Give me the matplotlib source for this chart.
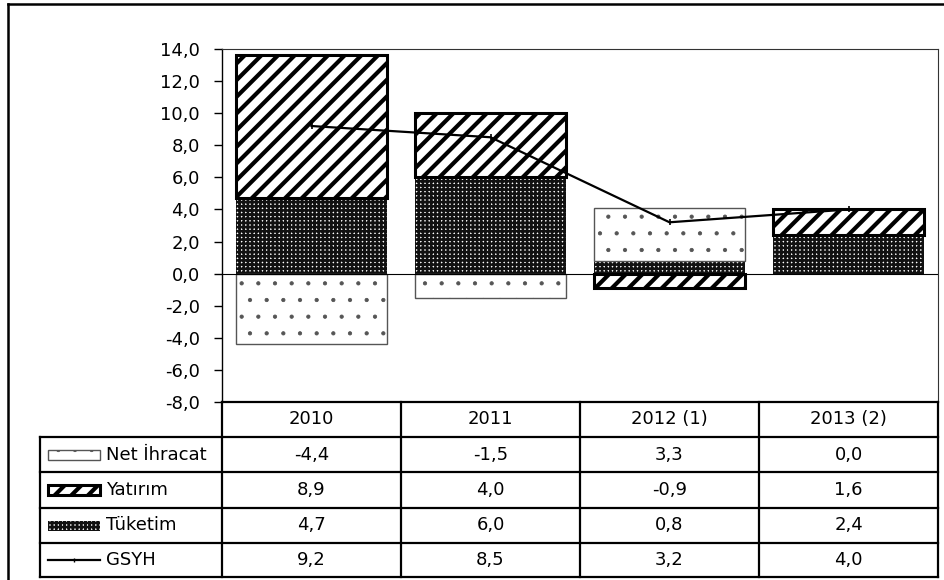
import numpy as np
import matplotlib
matplotlib.use("Agg")
import matplotlib.pyplot as plt
from matplotlib.patches import Rectangle
from matplotlib.ticker import FuncFormatter

YEARS = ["2010", "2011", "2012 (1)", "2013 (2)"]
NET = [-4.4, -1.5, 3.3, 0.0]
YAT = [8.9, 4.0, -0.9, 1.6]
TUK = [4.7, 6.0, 0.8, 2.4]
GSYH = [9.2, 8.5, 3.2, 4.0]
ROWS = ["Net İhracat", "Yatırım", "Tüketim", "GSYH"]

plt.rcParams["font.family"] = ["DejaVu Sans"]
FS = 13
W, H = 945, 580


def fmt(v):
    return f"{v:.1f}".replace(".", ",")


# bar looks: (patch kwargs, hatch linewidth)
STY = {
    "Net İhracat": (dict(facecolor="white", edgecolor="#555555", hatch=".", linewidth=1.0), 0.6),
    "Yatırım": (dict(facecolor="white", edgecolor="black", hatch="//", linewidth=2.2), 3.0),
    "Tüketim": (dict(facecolor="white", edgecolor="#111111", hatch="++++", linewidth=0), 1.9),
}


def hatch_lw(patches, lw):
    for p in patches:
        if hasattr(p, "set_hatch_linewidth"):
            p.set_hatch_linewidth(lw)


fig = plt.figure(figsize=(W / 100, H / 100), dpi=100)
AX_L, AX_R, AX_T, AX_B = 222, 938, 49, 402
ax = fig.add_axes([AX_L / W, 1 - AX_B / H, (AX_R - AX_L) / W, (AX_B - AX_T) / H])

x = np.arange(len(YEARS)) + 0.5
bw = 0.84
pos = np.zeros(len(YEARS))
neg = np.zeros(len(YEARS))
zs = {"Tüketim": 2, "Yatırım": 4, "Net İhracat": 3}
for name, vals in [("Tüketim", TUK), ("Yatırım", YAT), ("Net İhracat", NET)]:
    v = np.array(vals)
    bottom = np.where(v >= 0, pos, neg)
    kw, hl = STY[name]
    with plt.rc_context({"hatch.linewidth": hl}):
        bars = ax.bar(x, v, bw, bottom=bottom, zorder=zs[name], **kw)
    hatch_lw(bars, hl)
    pos = np.where(v >= 0, pos + v, pos)
    neg = np.where(v < 0, neg + v, neg)

ax.plot(x, GSYH, color="black", lw=1.6, marker="|", ms=4, mew=1.2, zorder=6)
ax.axhline(0, color="black", lw=0.8, zorder=5)

ax.set_xlim(0, len(YEARS))
ax.set_ylim(-8, 14)
ax.set_yticks(np.arange(-8, 15, 2))
ax.yaxis.set_major_formatter(FuncFormatter(lambda v, p: fmt(v)))
ax.tick_params(axis="y", labelsize=FS, length=6, width=1, pad=10, colors="black")
ax.set_xticks([])
for s in ["top", "right"]:
    ax.spines[s].set_linewidth(0.8)
    ax.spines[s].set_color("#333333")
ax.spines["left"].set_linewidth(1.0)
ax.spines["bottom"].set_visible(False)

# overlay in pixel coords for the frame and data table
tb = fig.add_axes([0, 0, 1, 1], zorder=10)
tb.set_xlim(0, W)
tb.set_ylim(H, 0)
tb.axis("off")

tb.plot([8, 8], [4, H + 5], color="black", lw=1.8, clip_on=False)
tb.plot([8, W + 5], [4, 4], color="black", lw=1.8, clip_on=False)

cols = [40] + [AX_L + i * (AX_R - AX_L) / len(YEARS) for i in range(len(YEARS) + 1)]
rows_y = [402, 437, 472, 508, 543, 577]
LW = 1.6
tb.plot([AX_L, AX_R], [rows_y[0]] * 2, color="black", lw=LW)
for yy in rows_y[1:]:
    tb.plot([cols[0], AX_R], [yy, yy], color="black", lw=LW)
tb.plot([cols[0]] * 2, [rows_y[1], rows_y[-1]], color="black", lw=LW)
for xx in cols[1:]:
    tb.plot([xx, xx], [rows_y[0], rows_y[-1]], color="black", lw=LW)

for j, yr in enumerate(YEARS):
    cx = (cols[j + 1] + cols[j + 2]) / 2
    tb.text(cx, (rows_y[0] + rows_y[1]) / 2, yr, ha="center", va="center", fontsize=FS)

table_vals = [NET, YAT, TUK, GSYH]
for i, (name, vals) in enumerate(zip(ROWS, table_vals)):
    cy = (rows_y[i + 1] + rows_y[i + 2]) / 2
    for j, v in enumerate(vals):
        cx = (cols[j + 1] + cols[j + 2]) / 2
        tb.text(cx, cy, fmt(v), ha="center", va="center", fontsize=FS)
    tb.text(106, cy, name, ha="left", va="center", fontsize=FS)
    if name == "GSYH":
        tb.plot([48, 100], [cy, cy], color="black", lw=1.6)
        tb.plot([74], [cy], color="black", marker="|", ms=3, mew=1.0)
    else:
        kw, hl = STY[name]
        with plt.rc_context({"hatch.linewidth": hl}):
            r = Rectangle((48, cy - 5), 52, 10, **kw)
        tb.add_patch(r)
        hatch_lw([r], hl)

fig.savefig("out.png", dpi=100)
